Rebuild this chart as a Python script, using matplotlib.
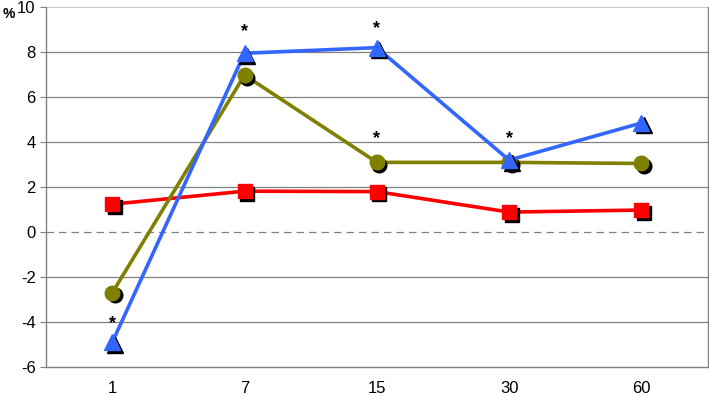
import matplotlib
matplotlib.use('Agg')
import matplotlib.pyplot as plt
from matplotlib.transforms import offset_copy

plt.rcParams['font.family'] = ['Liberation Sans', 'DejaVu Sans']
plt.rcParams['axes.unicode_minus'] = False

# Data
days = ['1', '7', '15', '30', '60']
red_vals = [1.24, 1.82, 1.80, 0.89, 0.98]
olive_vals = [-2.7, 6.98, 3.1, 3.1, 3.05]
blue_vals = [-4.9, 7.95, 8.2, 3.2, 4.85]
# significance stars (category index, y value)
star_x = [0, 1, 2, 2, 3]
star_y = [-4.05, 8.9, 9.05, 4.15, 4.15]

fig = plt.figure(figsize=(7.09, 3.96), dpi=100)
ax = fig.add_axes([0.065, 0.073, 0.933, 0.909])

x = list(range(len(days)))

# gridlines
for v in [-4, -2, 2, 4, 6, 8]:
    ax.axhline(v, color='#808080', lw=0.9, zorder=0)
ax.axhline(10, color='#c0c0c0', lw=1.2, zorder=0)
ax.axhline(0, color='#808080', lw=0.9, ls=(0, (6, 4)), zorder=0)

shadow = offset_copy(ax.transData, fig=fig, x=2.5, y=-2.5, units='dots')

series = [
    (red_vals, '#ff0000', 's', 9.5),
    (olive_vals, '#808000', 'o', 10.5),
    (blue_vals, '#3366ff', '^', 11.5),
]
z = 2
for vals, col, mk, ms in series:
    ax.plot(x, vals, color=col, lw=2.6, zorder=z, solid_joinstyle='round')
    ax.plot(x, vals, ls='none', marker=mk, ms=ms, color='black', mec='black',
            transform=shadow, zorder=z + 0.1)
    ax.plot(x, vals, ls='none', marker=mk, ms=ms, color=col, mec=col, zorder=z + 0.2)
    z += 1

for sx, sy in zip(star_x, star_y):
    ax.text(sx, sy, '*', ha='center', va='center', fontsize=13, fontweight='bold')

ax.set_xlim(-0.5, 4.5)
ax.set_ylim(-6, 10)
ax.set_yticks(range(-6, 11, 2))
ax.set_xticks(x)
ax.set_xticklabels(days)
ax.tick_params(axis='x', length=0, pad=10, labelsize=12)
ax.tick_params(axis='y', length=4, color='#808080', labelsize=12)

for s in ['top']:
    ax.spines[s].set_visible(False)
for s in ['left', 'bottom', 'right']:
    ax.spines[s].set_color('#808080')
    ax.spines[s].set_linewidth(1)

fig.text(0.003, 0.955, '%', fontsize=10, fontweight='bold')

fig.savefig('out.png', dpi=100)
